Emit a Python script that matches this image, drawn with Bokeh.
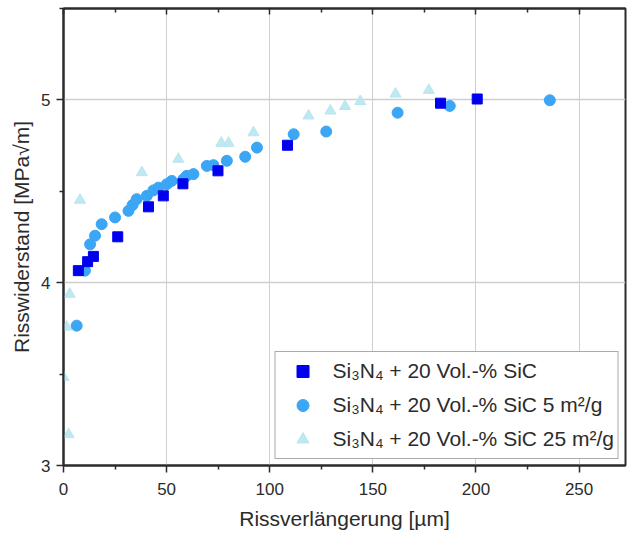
from bokeh.plotting import figure
from bokeh.models import LinearAxis, FixedTicker, Range1d, Legend, LegendItem
from bokeh.embed import file_html
from bokeh.resources import INLINE

# Data
sq_x = [7.2, 11.7, 14.5, 26.3, 41.2, 48.4, 57.9, 74.9, 108.6, 182.8, 200.6]
sq_y = [4.066, 4.115, 4.144, 4.251, 4.415, 4.475, 4.541, 4.612, 4.752, 4.982, 5.005]

ci_x = [6.4, 10.4, 12.9, 15.3, 18.5, 25.0, 31.5, 33.5, 35.5, 40.4, 43.6, 46.0, 50.1,
        52.5, 58.2, 59.8, 63.0, 69.5, 72.7, 79.2, 88.1, 93.8, 111.6, 127.4, 162.0,
        187.3, 235.8]
ci_y = [3.765, 4.066, 4.21, 4.257, 4.32, 4.357, 4.393, 4.425, 4.457, 4.475, 4.505,
        4.52, 4.539, 4.557, 4.567, 4.585, 4.594, 4.639, 4.643, 4.667, 4.689, 4.739,
        4.812, 4.827, 4.93, 4.967, 4.998]

tr_x = [0.0, 2.5, 3.0, 1.5, 8.0, 38.0, 55.7, 76.5, 80.0, 92.1, 118.8, 129.4, 136.5,
        143.9, 161.0, 177.1]
tr_y = [3.483, 3.17, 3.938, 3.758, 4.452, 4.603, 4.676, 4.764, 4.764, 4.821, 4.913,
        4.94, 4.965, 4.992, 5.033, 5.053]

x_major = [0, 50, 100, 150, 200, 250]
x_minor = [25, 75, 125, 175, 225]
y_major = [3, 4, 5]
y_minor = [3.5, 4.5, 5.5]

labels = ["Si\u2083N\u2084 + 20 Vol.-% SiC",
          "Si\u2083N\u2084 + 20 Vol.-% SiC 5 m\u00b2/g",
          "Si\u2083N\u2084 + 20 Vol.-% SiC 25 m\u00b2/g"]

FONT = "Liberation Sans"
AX = "#2b2b2b"

p = figure(width=628, height=538, output_backend="svg", toolbar_location=None,
           x_range=Range1d(0, 272.5), y_range=Range1d(3, 5.5),
           min_border_left=63, min_border_right=3, min_border_top=8, min_border_bottom=73)
p.background_fill_color = "white"
p.border_fill_color = "white"
p.outline_line_color = AX
p.outline_line_width = 2

for ax, maj, mnr in ((p.xaxis[0], x_major, x_minor), (p.yaxis[0], y_major, y_minor)):
    ax.ticker = FixedTicker(ticks=maj, minor_ticks=mnr)
    ax.axis_line_color = AX
    ax.axis_line_width = 2
    ax.major_tick_line_color = AX
    ax.minor_tick_line_color = AX
    ax.major_tick_line_width = 1.5
    ax.minor_tick_line_width = 1.5
    ax.major_tick_out = 7
    ax.major_tick_in = 0
    ax.minor_tick_out = 4
    ax.minor_tick_in = 0
    ax.major_label_text_font = FONT
    ax.major_label_text_font_size = "17px"
    ax.major_label_text_color = AX
    ax.axis_label_text_font = FONT
    ax.axis_label_text_font_size = "21px"
    ax.axis_label_text_font_style = "normal"
    ax.axis_label_text_color = AX

p.xaxis[0].axis_label = "Rissverlängerung [µm]"
p.yaxis[0].axis_label = "Risswiderstand [MPa√m]"
p.xaxis[0].major_label_standoff = 10
p.xaxis[0].axis_label_standoff = 9
p.yaxis[0].major_label_standoff = 6
p.yaxis[0].axis_label_standoff = 5

top = LinearAxis(ticker=FixedTicker(ticks=x_major, minor_ticks=x_minor))
top.axis_line_color = AX
top.axis_line_width = 2
top.major_tick_out = 0
top.major_tick_in = 6
top.minor_tick_out = 0
top.minor_tick_in = 4
top.major_tick_line_color = AX
top.minor_tick_line_color = AX
top.major_tick_line_width = 1.5
top.minor_tick_line_width = 1.5
top.major_label_overrides = {t: "" for t in x_major}
top.major_label_standoff = 0
p.add_layout(top, "above")

p.xgrid.ticker = FixedTicker(ticks=[50, 100, 150, 200, 250])
p.ygrid.ticker = FixedTicker(ticks=[4, 5])
p.xgrid.grid_line_color = "#cfcfcf"
p.ygrid.grid_line_color = "#cfcfcf"
p.xgrid.grid_line_width = 1
p.ygrid.grid_line_width = 1.5

r_tr = p.scatter(tr_x, tr_y, marker="triangle", size=11, fill_color="#b8e6f0",
                 line_color="#b8e6f0", fill_alpha=0.9)
r_ci = p.scatter(ci_x, ci_y, marker="circle", size=11, fill_color="#3aa6f5",
                 line_color="#3aa6f5")
r_sq = p.scatter(sq_x, sq_y, marker="square", size=10, fill_color="#0000ee",
                 line_color="#0000ee")

legend = Legend(items=[LegendItem(label=labels[0], renderers=[r_sq]),
                       LegendItem(label=labels[1], renderers=[r_ci]),
                       LegendItem(label=labels[2], renderers=[r_tr])],
                location="bottom_right")
legend.label_text_font = FONT
legend.label_text_font_size = "21px"
legend.label_text_color = AX
legend.glyph_height = 30
legend.glyph_width = 46
legend.label_height = 30
legend.spacing = 4
legend.padding = 4
legend.margin = 6
legend.label_standoff = 7
legend.border_line_color = "#555555"
legend.border_line_width = 1
legend.background_fill_alpha = 1
p.add_layout(legend)

open("out.html", "w").write(file_html(p, INLINE))
